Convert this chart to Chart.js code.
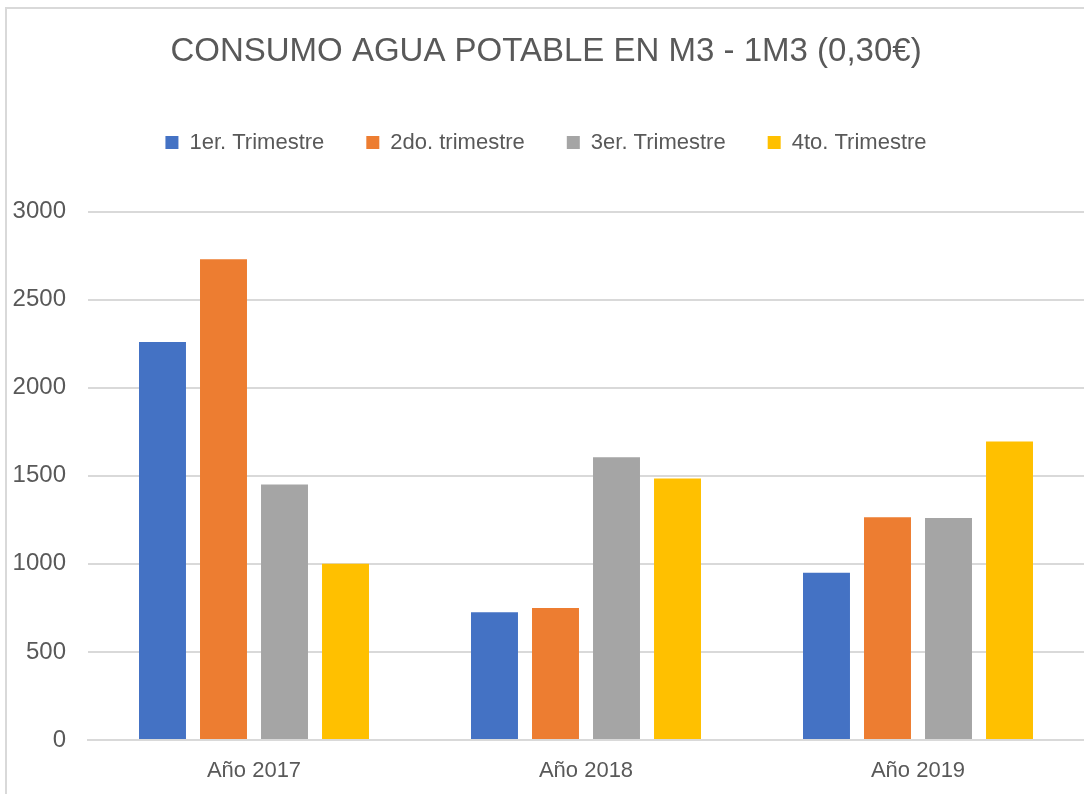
<!DOCTYPE html>
<html><head><meta charset="utf-8">
<script src="https://cdn.jsdelivr.net/npm/chart.js@4.4.1/dist/chart.umd.min.js"></script>
<style>
html,body{margin:0;padding:0;background:#fff;}
#wrap{position:absolute;left:0;top:0;width:1084px;height:794px;}
#frame{position:absolute;left:5px;top:7px;width:1079px;height:787px;border-left:2px solid #d9d9d9;border-top:2px solid #d9d9d9;box-sizing:border-box;pointer-events:none;}
canvas{display:block;}
</style></head>
<body>
<div id="wrap"><canvas id="c" width="1084" height="794"></canvas><div id="frame"></div></div>
<script>
const categories = ["Año 2017", "Año 2018", "Año 2019"];
const seriesNames = ["1er. Trimestre", "2do. trimestre", "3er. Trimestre", "4to. Trimestre"];
const t1 = [2260, 725, 950];
const t2 = [2730, 750, 1265];
const t3 = [1450, 1605, 1260];
const t4 = [1000, 1485, 1695];
const yTicks = [0, 500, 1000, 1500, 2000, 2500, 3000];
const colors = ["#4472C4", "#ED7D31", "#A5A5A5", "#FFC000"];
const titleText = "CONSUMO AGUA POTABLE EN M3 - 1M3 (0,30€)";

const FONT = "'Liberation Sans', Arial, sans-serif";
const values = [t1, t2, t3, t4];

const legendMargin = {
  id: 'legendMargin',
  beforeInit(chart) {
    const orig = chart.legend.fit;
    chart.legend.fit = function () { orig.bind(chart.legend)(); this.height += 48; };
  }
};

new Chart(document.getElementById('c'), {
  type: 'bar',
  data: {
    labels: categories,
    datasets: seriesNames.map((n, i) => ({
      label: n, data: values[i], backgroundColor: colors[i], borderWidth: 0,
      barPercentage: 0.77, categoryPercentage: 0.735
    }))
  },
  options: {
    responsive: false,
    animation: false,
    layout: { padding: { left: 8, right: 0, top: 28, bottom: 0 } },
    plugins: {
      title: { display: true, text: titleText, color: '#595959',
        font: { family: FONT, size: 33, weight: 'normal' }, padding: { top: 4, bottom: 18 } },
      legend: { position: 'top', labels: { color: '#595959', boxWidth: 13, boxHeight: 13,
        font: { family: FONT, size: 22 }, padding: 42 } },
      tooltip: { enabled: false }
    },
    scales: {
      x: {
        grid: { display: false, drawTicks: false },
        border: { color: '#d9d9d9', width: 2 },
        ticks: { color: '#595959', font: { family: FONT, size: 22 }, padding: 18 },
        afterFit: s => { s.height = 54; }
      },
      y: {
        min: 0, max: 3000,
        afterBuildTicks: s => { s.ticks = yTicks.map(v => ({ value: v })); },
        grid: { color: '#d9d9d9', lineWidth: 2, drawTicks: false },
        border: { display: false },
        ticks: { color: '#595959', font: { family: FONT, size: 24 }, padding: 22,
          callback: v => String(v) },
        afterFit: s => { s.width = 80; }
      }
    }
  },
  plugins: [legendMargin]
});
</script>
</body></html>
